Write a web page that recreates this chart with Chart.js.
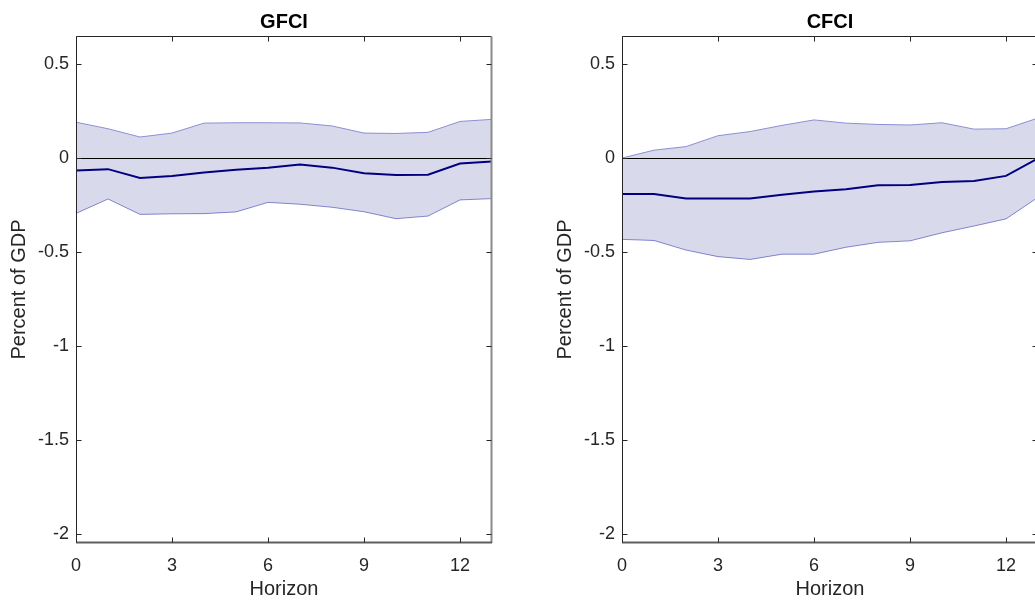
<!DOCTYPE html>
<html>
<head>
<meta charset="utf-8">
<script src="https://cdn.jsdelivr.net/npm/chart.js@4/dist/chart.umd.min.js"></script>
<style>
  html, body { margin: 0; padding: 0; background: #fff; overflow: hidden; }
  #wrap { position: relative; width: 1035px; height: 601px; overflow: hidden; }
  #wrap canvas { position: absolute; top: 0; }
  #gfci { left: 0; }
  #cfci { left: 546px; }
</style>
</head>
<body>
<div id="wrap">
  <canvas id="gfci" width="500" height="601"></canvas>
  <canvas id="cfci" width="500" height="601"></canvas>
</div>
<script>
// Impulse responses over the horizon, with confidence bands
const horizon = [0, 1, 2, 3, 4, 5, 6, 7, 8, 9, 10, 11, 12, 13];

const gfciUpper = [0.191, 0.156, 0.112, 0.133, 0.186, 0.188, 0.188, 0.187, 0.171, 0.133, 0.131, 0.137, 0.195, 0.206];
const gfciMean  = [-0.066, -0.059, -0.106, -0.096, -0.077, -0.062, -0.052, -0.034, -0.051, -0.081, -0.090, -0.089, -0.029, -0.018];
const gfciLower = [-0.295, -0.218, -0.300, -0.297, -0.296, -0.287, -0.236, -0.246, -0.262, -0.286, -0.323, -0.309, -0.223, -0.216];

const cfciUpper = [0.000, 0.042, 0.061, 0.119, 0.141, 0.174, 0.203, 0.186, 0.179, 0.176, 0.188, 0.154, 0.156, 0.213];
const cfciMean  = [-0.192, -0.191, -0.215, -0.216, -0.216, -0.195, -0.178, -0.166, -0.145, -0.144, -0.127, -0.122, -0.095, -0.002];
const cfciLower = [-0.433, -0.439, -0.490, -0.525, -0.540, -0.512, -0.512, -0.475, -0.449, -0.441, -0.398, -0.362, -0.324, -0.209];

const xTicks = [0, 3, 6, 9, 12];
const yTicks = [-2, -1.5, -1, -0.5, 0, 0.5];
const xRange = [0, 13];
const yRange = [-2.05, 0.65];

const FONT = '"Liberation Sans", Arial, Helvetica, sans-serif';
const AXIS_COLOR = '#262626';

// Zero reference line under the mean response, plus a boxed frame with inward ticks
const framePlugin = {
  id: 'frame',
  beforeDatasetDraw(chart, args) {
    if (args.index !== 0) return;
    const { ctx, chartArea: a, scales: { y } } = chart;
    const yz = Math.round(y.getPixelForValue(0)) + 0.5;
    ctx.save();
    ctx.strokeStyle = '#000';
    ctx.lineWidth = 1;
    ctx.beginPath();
    ctx.moveTo(a.left, yz);
    ctx.lineTo(a.right, yz);
    ctx.stroke();
    ctx.restore();
  },
  afterDraw(chart) {
    const { ctx, chartArea: a, scales: { x, y } } = chart;
    const L = Math.round(a.left) + 0.5;
    const R = Math.round(a.right) - 0.5;
    const T = Math.round(a.top) + 0.5;
    const B = Math.round(a.bottom) - 0.5;
    const len = 5;
    ctx.save();
    // left and top edges
    ctx.strokeStyle = AXIS_COLOR;
    ctx.lineWidth = 1;
    ctx.beginPath();
    ctx.moveTo(L, B); ctx.lineTo(L, T); ctx.lineTo(R, T);
    ctx.stroke();
    // right edge
    ctx.strokeStyle = '#8a8a8a';
    ctx.lineWidth = 2;
    ctx.beginPath();
    ctx.moveTo(R, T); ctx.lineTo(R, B + 0.5);
    ctx.stroke();
    // bottom edge
    ctx.strokeStyle = '#5e5e5e';
    ctx.beginPath();
    ctx.moveTo(L - 0.5, B); ctx.lineTo(R + 0.5, B);
    ctx.stroke();
    // inward tick marks on all four sides
    ctx.strokeStyle = AXIS_COLOR;
    ctx.lineWidth = 1;
    ctx.beginPath();
    x.ticks.forEach(t => {
      const px = Math.round(x.getPixelForValue(t.value)) + 0.5;
      ctx.moveTo(px, B); ctx.lineTo(px, B - len);
      ctx.moveTo(px, T); ctx.lineTo(px, T + len);
    });
    y.ticks.forEach(t => {
      const py = Math.round(y.getPixelForValue(t.value)) + 0.5;
      ctx.moveTo(L, py); ctx.lineTo(L + len, py);
      ctx.moveTo(R, py); ctx.lineTo(R - len, py);
    });
    ctx.stroke();
    ctx.restore();
  }
};

function makePanel(canvasId, title, mean, upper, lower) {
  return new Chart(document.getElementById(canvasId), {
    type: 'line',
    data: {
      labels: horizon,
      datasets: [
        {
          label: 'Response',
          data: mean,
          borderColor: '#000080',
          borderWidth: 2,
          pointRadius: 0,
          fill: false,
          tension: 0
        },
        {
          label: 'Upper band',
          data: upper,
          borderColor: '#8b8fd2',
          borderWidth: 1,
          backgroundColor: 'rgba(0, 0, 128, 0.15)',
          pointRadius: 0,
          fill: '+1',
          tension: 0
        },
        {
          label: 'Lower band',
          data: lower,
          borderColor: '#8b8fd2',
          borderWidth: 1,
          pointRadius: 0,
          fill: false,
          tension: 0
        }
      ]
    },
    options: {
      responsive: false,
      animation: false,
      events: [],
      layout: { padding: { left: 0, right: 8, top: 0, bottom: 0 } },
      plugins: {
        legend: { display: false },
        tooltip: { enabled: false },
        title: {
          display: true,
          text: title,
          fullSize: false,
          color: '#000',
          font: { family: FONT, size: 20, weight: 'bold' },
          padding: { top: 10, bottom: 2 }
        }
      },
      scales: {
        x: {
          type: 'linear',
          min: xRange[0],
          max: xRange[1],
          afterBuildTicks: s => { s.ticks = xTicks.map(v => ({ value: v })); },
          afterFit: s => { s.height = 58; },
          grid: { display: false, drawTicks: false },
          border: { display: false },
          ticks: {
            color: AXIS_COLOR,
            padding: 12,
            font: { family: FONT, size: 18 },
            callback: v => String(v)
          },
          title: {
            display: true,
            text: 'Horizon',
            color: AXIS_COLOR,
            font: { family: FONT, size: 20 },
            padding: { top: 0, bottom: 0 }
          }
        },
        y: {
          type: 'linear',
          min: yRange[0],
          max: yRange[1],
          afterBuildTicks: s => { s.ticks = yTicks.map(v => ({ value: v })); },
          afterFit: s => { s.width = 76; },
          grid: { display: false, drawTicks: false },
          border: { display: false },
          ticks: {
            color: AXIS_COLOR,
            padding: 7,
            font: { family: FONT, size: 18 },
            callback: v => String(v)
          },
          title: {
            display: true,
            text: 'Percent of GDP',
            color: AXIS_COLOR,
            font: { family: FONT, size: 20 },
            padding: { top: 7, bottom: 0 }
          }
        }
      }
    },
    plugins: [framePlugin]
  });
}

makePanel('gfci', 'GFCI', gfciMean, gfciUpper, gfciLower);
makePanel('cfci', 'CFCI', cfciMean, cfciUpper, cfciLower);
</script>
</body>
</html>
